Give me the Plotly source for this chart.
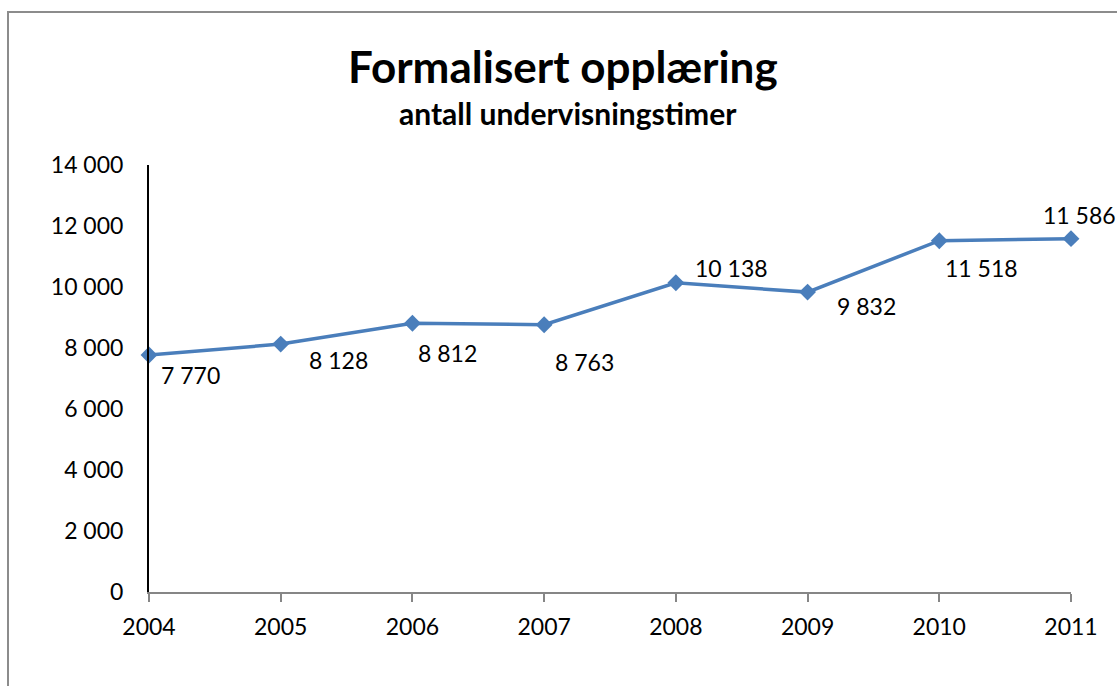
import plotly.graph_objects as go

years = [2004, 2005, 2006, 2007, 2008, 2009, 2010, 2011]
hours = [7770, 8128, 8812, 8763, 10138, 9832, 11518, 11586]
y_ticks = [0, 2000, 4000, 6000, 8000, 10000, 12000, 14000]
title_text = "Formalisert opplæring"
subtitle_text = "antall undervisningstimer"

# label offsets (px) relative to each point
label_dx = [41, 58, 35, 40, 56, 59, 42, 8]
label_dy = [20, 16, 30, 37, -15, 14, 27, -24]

FONT = "Lato"
W, H = 1117, 686
L, R, T, B = 149, 46, 165, 94
pw, ph = W - L - R, H - T - B

def px_x(px):
    return (px - L) / pw

def px_y(py):
    return (H - B - py) / ph

fig = go.Figure()
fig.add_trace(go.Scatter(
    x=years, y=hours, mode="lines+markers",
    line=dict(color="#4a7ebb", width=3.5),
    marker=dict(symbol="diamond", size=13, color="#4a7ebb"),
    hoverinfo="x+y", showlegend=False, cliponaxis=False,
))

ann = []
for x, y, dx, dy in zip(years, hours, label_dx, label_dy):
    ann.append(dict(x=x, y=y, text=f"{y:,}".replace(",", " "), showarrow=False,
                    xshift=dx, yshift=-dy, xanchor="center", yanchor="middle",
                    font=dict(family=FONT, size=23, color="#000")))
ann.append(dict(xref="paper", yref="paper", x=px_x(563), y=px_y(66), text=f"<b>{title_text}</b>",
                showarrow=False, xanchor="center", yanchor="middle",
                font=dict(family=FONT, size=44, color="#000")))
ann.append(dict(xref="paper", yref="paper", x=px_x(568), y=px_y(113), text=f"<b>{subtitle_text}</b>",
                showarrow=False, xanchor="center", yanchor="middle",
                font=dict(family=FONT, size=30, color="#000")))

fig.update_layout(
    width=W, height=H,
    margin=dict(l=L, r=R, t=T, b=B, autoexpand=False),
    paper_bgcolor="white", plot_bgcolor="white",
    separators=", ",
    font=dict(family=FONT, size=23, color="#000"),
    annotations=ann,
    shapes=[dict(type="rect", xref="paper", yref="paper",
                 x0=px_x(8), x1=px_x(1140), y0=px_y(720), y1=px_y(12),
                 line=dict(color="#8c8c8c", width=2), fillcolor="rgba(0,0,0,0)", layer="below")],
    xaxis=dict(range=[2004, 2011], tickmode="array", tickvals=years, ticktext=[str(v) for v in years],
               showgrid=False, zeroline=False, showline=True, linecolor="#868686", linewidth=2,
               ticks="outside", ticklen=8, tickcolor="#868686", tickwidth=2,
               ticklabelstandoff=5, tickfont=dict(family=FONT, size=23, color="#000")),
    yaxis=dict(range=[0, 14000], tickmode="array", tickvals=y_ticks, tickformat=",d",
               showgrid=False, zeroline=False, showline=True, linecolor="#000", linewidth=2,
               ticks="", ticklabelstandoff=19, tickfont=dict(family=FONT, size=23, color="#000")),
)

fig.write_html("out.html", config={"displayModeBar": False},
               post_script="document.body.style.margin='0';document.body.style.overflow='hidden';")
